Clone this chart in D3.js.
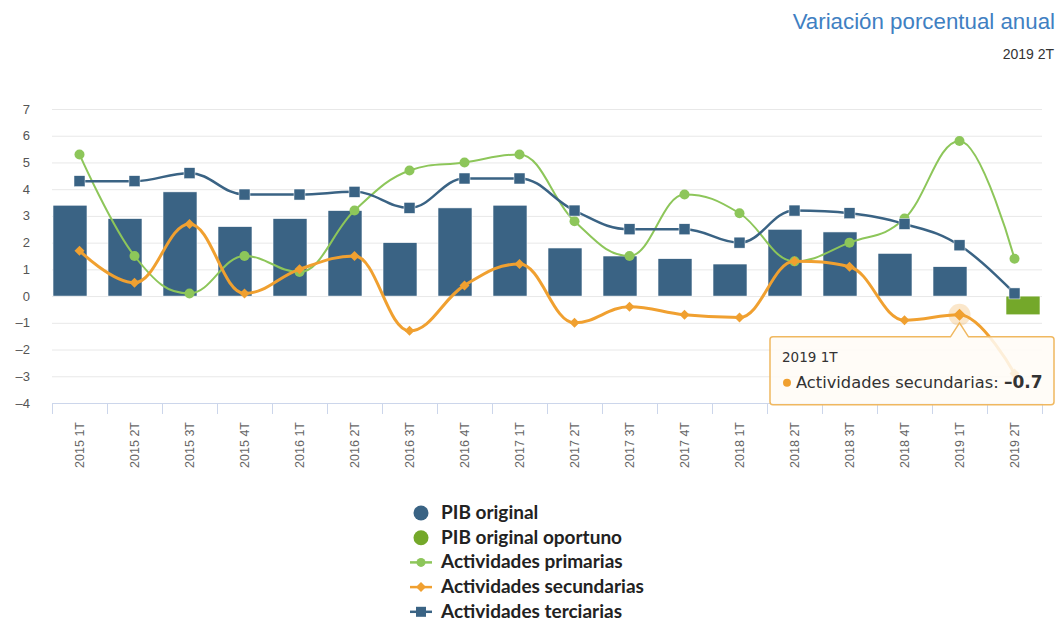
<!DOCTYPE html>
<html>
<head>
<meta charset="utf-8">
<script src="https://cdn.jsdelivr.net/npm/d3@7"></script>
<style>
  body { margin: 0; background: #fff; }
  svg { display: block; font-family: 'Liberation Sans', Arial, sans-serif; }
</style>
</head>
<body>
<svg id="chart" width="1059" height="623"></svg>
<script>
// data
const categories = ['2015 1T','2015 2T','2015 3T','2015 4T','2016 1T','2016 2T','2016 3T','2016 4T','2017 1T',
  '2017 2T','2017 3T','2017 4T','2018 1T','2018 2T','2018 3T','2018 4T','2019 1T','2019 2T'];
const pibOriginal = [3.4, 2.9, 3.9, 2.6, 2.9, 3.2, 2.0, 3.3, 3.4, 1.8, 1.5, 1.4, 1.2, 2.5, 2.4, 1.6, 1.1, null];
const pibOportuno = [null, null, null, null, null, null, null, null, null, null, null, null, null, null, null, null, null, -0.7];
const primarias = [5.3, 1.5, 0.1, 1.5, 0.9, 3.2, 4.7, 5.0, 5.3, 2.8, 1.5, 3.8, 3.1, 1.3, 2.0, 2.9, 5.8, 1.4];
const secundarias = [1.7, 0.5, 2.7, 0.1, 1.0, 1.5, -1.3, 0.4, 1.2, -1.0, -0.4, -0.7, -0.8, 1.3, 1.1, -0.9, -0.7, -2.9];
const terciarias = [4.3, 4.3, 4.6, 3.8, 3.8, 3.9, 3.3, 4.4, 4.4, 3.2, 2.5, 2.5, 2.0, 3.2, 3.1, 2.7, 1.9, 0.1];
const yTicks = [-4, -3, -2, -1, 0, 1, 2, 3, 4, 5, 6, 7];

const colors = {
  pib: '#3a6384',
  oportuno: '#74a82a',
  primarias: '#8dc65a',
  secundarias: '#f0a030',
  terciarias: '#3a6384'
};

const svg = d3.select('#chart');

const x = d3.scaleBand().domain(categories).range([52, 1042]).padding(0);
const y = d3.scaleLinear().domain([-4, 7]).range([403, 109]);
const bw = x.bandwidth();
const cx = c => x(c) + bw / 2;
const fmt = v => (v < 0 ? '\u2013' + Math.abs(v) : String(v));

// title
svg.append('text').attr('x', 1055).attr('y', 29).attr('text-anchor', 'end')
  .style('font-size', '22.3px').style('fill', '#3f80c2').text('Variación porcentual anual');
svg.append('text').attr('x', 1054).attr('y', 59).attr('text-anchor', 'end')
  .style('font-size', '14px').style('fill', '#333').text('2019 2T');

// grid
svg.append('g').selectAll('line').data(yTicks.filter(t => t > -4)).join('line')
  .attr('x1', 52).attr('x2', 1042)
  .attr('y1', d => y(d) + 0.5).attr('y2', d => y(d) + 0.5)
  .attr('stroke', '#e8e8e8').attr('stroke-width', 1);

// y labels
svg.append('g').selectAll('text').data(yTicks).join('text')
  .attr('x', 30).attr('y', d => y(d) + 4.5).attr('text-anchor', 'end')
  .style('font-size', '13px').style('fill', '#555')
  .text(d => fmt(d));

// x axis
const xAxis = svg.append('g');
xAxis.append('line').attr('x1', 52).attr('x2', 1042).attr('y1', 403.5).attr('y2', 403.5)
  .attr('stroke', '#ccd6eb');
xAxis.selectAll('line.tick').data(categories.concat(['end'])).join('line').attr('class', 'tick')
  .attr('x1', (d, i) => (i < categories.length ? x(d) : 1042) + 0.5)
  .attr('x2', (d, i) => (i < categories.length ? x(d) : 1042) + 0.5)
  .attr('y1', 403).attr('y2', 414).attr('stroke', '#ccd6eb');
xAxis.selectAll('text').data(categories).join('text')
  .attr('transform', d => `translate(${cx(d) + 4.5},422) rotate(-90)`)
  .attr('text-anchor', 'end')
  .style('font-size', '12.5px').style('fill', '#666')
  .text(d => d);

// columns
const barW = 34;
svg.append('g').selectAll('rect').data(categories.map((c, i) => ({ c, v: pibOriginal[i] })).filter(d => d.v != null))
  .join('rect')
  .attr('x', d => cx(d.c) - 26.5).attr('width', barW)
  .attr('y', d => Math.min(y(d.v), y(0))).attr('height', d => Math.abs(y(d.v) - y(0)))
  .attr('fill', colors.pib).attr('stroke', '#fff').attr('stroke-width', 0.6);
svg.append('g').selectAll('rect').data(categories.map((c, i) => ({ c, v: pibOportuno[i] })).filter(d => d.v != null))
  .join('rect')
  .attr('x', d => cx(d.c) - 8.5).attr('width', barW)
  .attr('y', d => Math.min(y(d.v), y(0))).attr('height', d => Math.abs(y(d.v) - y(0)))
  .attr('fill', colors.oportuno).attr('stroke', '#fff').attr('stroke-width', 0.6);

// Highcharts-like spline path
function splinePath(pts) {
  const s = 1.5, den = s + 1;
  let d = '';
  const ctrl = pts.map((p, i) => {
    if (i === 0 || i === pts.length - 1) return null;
    const l = pts[i - 1], n = pts[i + 1];
    let lx = (s * p[0] + l[0]) / den, ly = (s * p[1] + l[1]) / den;
    let rx = (s * p[0] + n[0]) / den, ry = (s * p[1] + n[1]) / den;
    if (rx !== lx) {
      const corr = ((ry - ly) * (rx - p[0])) / (rx - lx) + p[1] - ry;
      ly += corr; ry += corr;
    }
    if (ly > l[1] && ly > p[1]) { ly = Math.max(l[1], p[1]); ry = 2 * p[1] - ly; }
    else if (ly < l[1] && ly < p[1]) { ly = Math.min(l[1], p[1]); ry = 2 * p[1] - ly; }
    if (ry > n[1] && ry > p[1]) { ry = Math.max(n[1], p[1]); ly = 2 * p[1] - ry; }
    else if (ry < n[1] && ry < p[1]) { ry = Math.min(n[1], p[1]); ly = 2 * p[1] - ry; }
    return { lx, ly, rx, ry };
  });
  pts.forEach((p, i) => {
    if (i === 0) { d += `M${p[0]},${p[1]}`; return; }
    const pc = ctrl[i - 1], c = ctrl[i];
    const c1 = pc ? [pc.rx, pc.ry] : pts[i - 1];
    const c2 = c ? [c.lx, c.ly] : p;
    d += `C${c1[0]},${c1[1]} ${c2[0]},${c2[1]} ${p[0]},${p[1]}`;
  });
  return d;
}

function drawLine(values, color, width, marker) {
  const pts = categories.map((c, i) => [cx(c), y(values[i])]);
  const g = svg.append('g');
  g.append('path').attr('d', splinePath(pts)).attr('fill', 'none')
    .attr('stroke', color).attr('stroke-width', width).attr('stroke-linejoin', 'round');
  pts.forEach(p => {
    if (marker === 'circle') {
      g.append('circle').attr('cx', p[0]).attr('cy', p[1]).attr('r', 5).attr('fill', color);
    } else if (marker === 'square') {
      g.append('rect').attr('x', p[0] - 5.5).attr('y', p[1] - 5.5).attr('width', 11).attr('height', 11)
        .attr('fill', color).attr('stroke', '#fff').attr('stroke-width', 0.5);
    } else {
      g.append('path').attr('d', `M${p[0]},${p[1] - 5}L${p[0] + 5},${p[1]}L${p[0]},${p[1] + 5}L${p[0] - 5},${p[1]}Z`)
        .attr('fill', color);
    }
  });
  return pts;
}

drawLine(primarias, colors.primarias, 2, 'circle');
const secPts = drawLine(secundarias, colors.secundarias, 3, 'diamond');
drawLine(terciarias, colors.terciarias, 2.5, 'square');

// hover halo on 2019 1T
const hi = categories.indexOf('2019 1T');
svg.append('circle').attr('cx', secPts[hi][0]).attr('cy', secPts[hi][1]).attr('r', 11)
  .attr('fill', colors.secundarias).attr('opacity', 0.25);
svg.append('path')
  .attr('d', `M${secPts[hi][0]},${secPts[hi][1] - 6}L${secPts[hi][0] + 6},${secPts[hi][1]}L${secPts[hi][0]},${secPts[hi][1] + 6}L${secPts[hi][0] - 6},${secPts[hi][1]}Z`)
  .attr('fill', colors.secundarias);

// tooltip
const ax = secPts[hi][0], ay = secPts[hi][1];
const bx0 = 770, bx1 = 1054, by0 = ay + 22, by1 = ay + 90;
const tip = svg.append('g');
tip.append('path')
  .attr('d', `M${bx0 + 3},${by0} L${ax - 9},${by0} L${ax},${ay + 8} L${ax + 9},${by0} L${bx1 - 3},${by0}
    Q${bx1},${by0} ${bx1},${by0 + 3} L${bx1},${by1 - 3} Q${bx1},${by1} ${bx1 - 3},${by1}
    L${bx0 + 3},${by1} Q${bx0},${by1} ${bx0},${by1 - 3} L${bx0},${by0 + 3} Q${bx0},${by0} ${bx0 + 3},${by0} Z`)
  .attr('fill', 'rgba(255,252,246,0.86)').attr('stroke', '#f0b860').attr('stroke-width', 1.5);
tip.append('text').attr('x', bx0 + 12).attr('y', by0 + 25)
  .style('font-family', "'DejaVu Sans', sans-serif")
  .style('font-size', '13.5px').style('fill', '#333').text('2019 1T');
tip.append('circle').attr('cx', bx0 + 17).attr('cy', by0 + 46).attr('r', 4).attr('fill', colors.secundarias);
const t2 = tip.append('text').attr('x', bx0 + 26).attr('y', by0 + 51)
  .style('font-family', "'DejaVu Sans', sans-serif")
  .style('font-size', '16.3px').style('fill', '#333');
t2.append('tspan').text('Actividades secundarias: ');
t2.append('tspan').style('font-weight', 'bold').style('font-size', '17px').text(fmt(secundarias[hi]));

// legend
const legendItems = [
  { name: 'PIB original', color: colors.pib, type: 'dot' },
  { name: 'PIB original oportuno', color: colors.oportuno, type: 'dot' },
  { name: 'Actividades primarias', color: colors.primarias, type: 'circle' },
  { name: 'Actividades secundarias', color: colors.secundarias, type: 'diamond' },
  { name: 'Actividades terciarias', color: colors.terciarias, type: 'square' }
];
const lg = svg.append('g').attr('transform', 'translate(421,513)');
legendItems.forEach((it, i) => {
  const g = lg.append('g').attr('transform', `translate(0,${i * 24.7})`);
  if (it.type === 'dot') {
    g.append('circle').attr('r', 7.5).attr('fill', it.color);
  } else {
    g.append('line').attr('x1', -11).attr('x2', 11).attr('stroke', it.color).attr('stroke-width', 2.5);
    if (it.type === 'circle') g.append('circle').attr('r', 4.5).attr('fill', it.color);
    if (it.type === 'diamond') g.append('path').attr('d', 'M0,-5L5,0L0,5L-5,0Z').attr('fill', it.color);
    if (it.type === 'square') g.append('rect').attr('x', -5).attr('y', -5).attr('width', 10).attr('height', 10).attr('fill', it.color);
  }
  g.append('text').attr('x', 20).attr('y', 6)
    .style('font-family', "Lato, sans-serif").style('font-weight', 'bold')
    .style('font-size', '19px').style('fill', '#222').text(it.name);
});
</script>
</body>
</html>
